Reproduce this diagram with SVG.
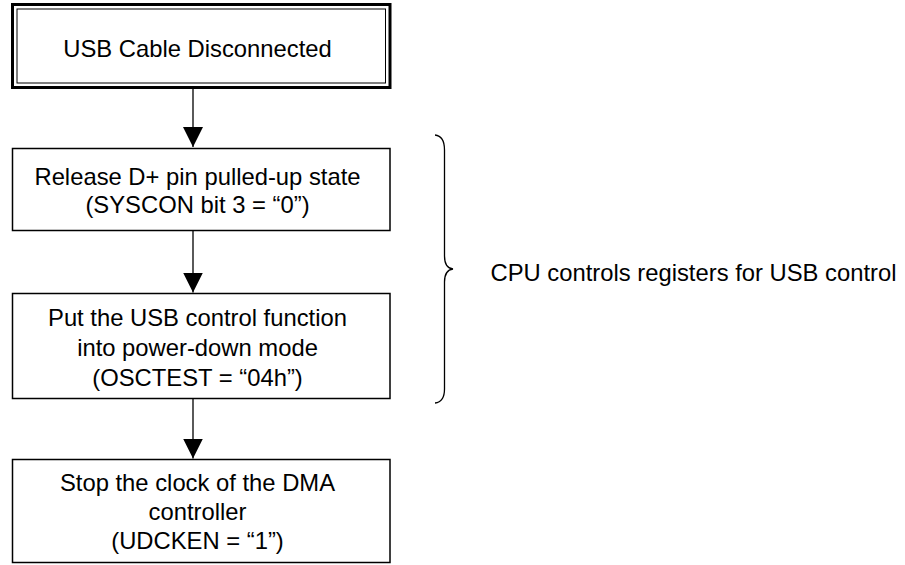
<svg xmlns="http://www.w3.org/2000/svg" width="905" height="565" viewBox="0 0 905 565">
<defs>
<style>
.box{fill:#fff;stroke:#000;stroke-width:1.5}
.t{font-family:"Liberation Sans",Arial,sans-serif;font-size:23.8px;fill:#000;text-anchor:middle}
.c{stroke:#000;stroke-width:1.3;fill:none}
</style>
<marker id="ah" viewBox="0 0 20 20" refX="20" refY="10" markerWidth="20" markerHeight="20" markerUnits="userSpaceOnUse" orient="auto">
<path d="M0,0 L20,10 L0,20 Z" fill="#000"/>
</marker>
</defs>
<rect width="905" height="565" fill="#fff"/>
<g id="n1">
<rect x="12.5" y="4.5" width="377.5" height="83" fill="#fff" stroke="#000" stroke-width="3"/>
<rect x="17" y="9" width="368.5" height="74" fill="none" stroke="#000" stroke-width="1"/>
<text class="t" x="197.5" y="56.5">USB Cable Disconnected</text>
</g>
<g id="n2">
<rect class="box" x="12.5" y="148.5" width="377.5" height="82"/>
<text class="t" x="197.5" y="185">Release D+ pin pulled-up state</text>
<text class="t" x="197.5" y="213">(SYSCON bit 3 = “0”)</text>
</g>
<g id="n3">
<rect class="box" x="12.5" y="293.5" width="377.5" height="105"/>
<text class="t" x="197.5" y="326">Put the USB control function</text>
<text class="t" x="197.5" y="356">into power-down mode</text>
<text class="t" x="197.5" y="386">(OSCTEST = “04h”)</text>
</g>
<g id="n4">
<rect class="box" x="12.5" y="459.5" width="377.5" height="103"/>
<text class="t" x="197.5" y="491">Stop the clock of the DMA</text>
<text class="t" x="197.5" y="520">controller</text>
<text class="t" x="197.5" y="549">(UDCKEN = “1”)</text>
</g>
<g id="brace">
<path class="c" d="M435,135 Q444.5,136 444.5,150 L444.5,256 Q444.5,268 453,269 Q444.5,270 444.5,282 L444.5,389 Q444.5,402 435,403"/>
<text x="490.5" y="281" font-family="'Liberation Sans',Arial,sans-serif" font-size="23.8px" fill="#000">CPU controls registers for USB control</text>
</g>
<g id="connectors">
<line class="c" x1="193" y1="89" x2="193" y2="147" marker-end="url(#ah)"/>
<line class="c" x1="193" y1="231" x2="193" y2="292.5" marker-end="url(#ah)"/>
<line class="c" x1="193" y1="399" x2="193" y2="458.5" marker-end="url(#ah)"/>
</g>
</svg>
